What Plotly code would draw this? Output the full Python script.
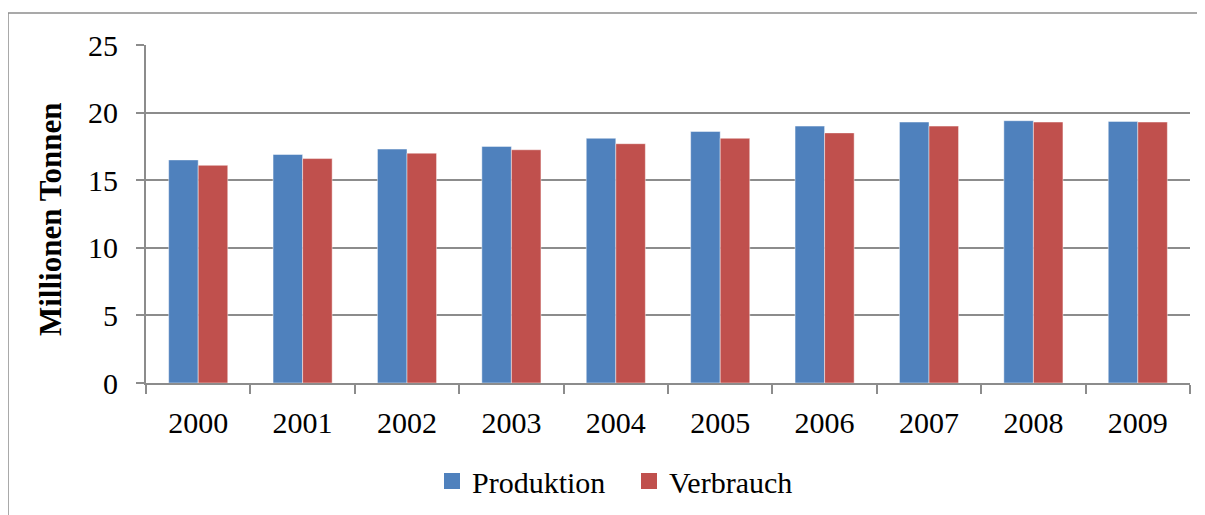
import plotly.graph_objects as go

years = ["2000", "2001", "2002", "2003", "2004", "2005", "2006", "2007", "2008", "2009"]
produktion = [16.5, 16.9, 17.3, 17.5, 18.1, 18.6, 19.0, 19.3, 19.4, 19.35]
verbrauch = [16.1, 16.6, 17.0, 17.25, 17.7, 18.1, 18.5, 19.0, 19.3, 19.3]
y_ticks = [0, 5, 10, 15, 20, 25]

BLUE = "#4F81BD"
RED = "#C0504D"
FONT = "Liberation Serif"

fig = go.Figure()
fig.add_trace(go.Bar(x=years, y=produktion, name="Produktion", marker_color=BLUE,
                     marker_line=dict(color="rgba(255,255,255,0.45)", width=1), showlegend=False))
fig.add_trace(go.Bar(x=years, y=verbrauch, name="Verbrauch", marker_color=RED,
                     marker_line=dict(color="rgba(255,255,255,0.45)", width=1), showlegend=False))
# legend entries
fig.add_trace(go.Scatter(x=[None], y=[None], mode="markers", name="Produktion",
                         marker=dict(symbol="square", size=17, color=BLUE)))
fig.add_trace(go.Scatter(x=[None], y=[None], mode="markers", name="Verbrauch",
                         marker=dict(symbol="square", size=17, color=RED)))

OFF = 8  # page body margin
W, H = 1205 - OFF, 515 - OFF
L, R, T, B = 146 - OFF, 15, 45 - OFF, 132
pw, ph = W - L - R, H - T - B

def px(x):
    return (x - OFF - L) / pw

def py(y):
    return (H - B - (y - OFF)) / ph

fig.update_layout(
    width=W, height=H,
    margin=dict(l=L, r=R, t=T, b=B, autoexpand=False),
    paper_bgcolor="white", plot_bgcolor="white",
    barmode="group", bargap=0.434, bargroupgap=0,
    font=dict(family=FONT, size=30, color="black"),
    legend=dict(orientation="h", x=px(432), xanchor="left", y=py(481), yanchor="middle",
                font=dict(family=FONT, size=30), itemsizing="trace", bgcolor="rgba(0,0,0,0)",
                entrywidth=152, entrywidthmode="pixels"),
    xaxis=dict(type="category", showline=True, linecolor="#8c8c8c", linewidth=2,
               ticks="outside", tickson="boundaries", ticklen=9, tickcolor="#8c8c8c", tickwidth=2,
               ticklabelstandoff=12, showgrid=False, tickfont=dict(family=FONT, size=30)),
    yaxis=dict(range=[0, 25], tickvals=y_ticks, showline=True, linecolor="#8c8c8c", linewidth=2,
               ticks="outside", ticklen=8, tickcolor="#8c8c8c", tickwidth=2,
               showgrid=True, gridcolor="#8c8c8c", gridwidth=2, zeroline=False,
               ticklabelstandoff=12, tickfont=dict(family=FONT, size=30)),
    annotations=[dict(text="<b>Millionen Tonnen</b>", textangle=-90, xref="paper", yref="paper",
                      x=px(50), y=py(220), xanchor="center", yanchor="middle", showarrow=False,
                      font=dict(family=FONT, size=31, color="black"))],
    shapes=[
        dict(type="line", xref="paper", yref="paper", x0=px(8), x1=px(1215), y0=py(13), y1=py(13),
             line=dict(color="#8c8c8c", width=1.5)),
        dict(type="line", xref="paper", yref="paper", x0=px(8), x1=px(8), y0=py(13), y1=py(530),
             line=dict(color="#8c8c8c", width=1.5)),
    ],
)

fig.write_html("out.html")
